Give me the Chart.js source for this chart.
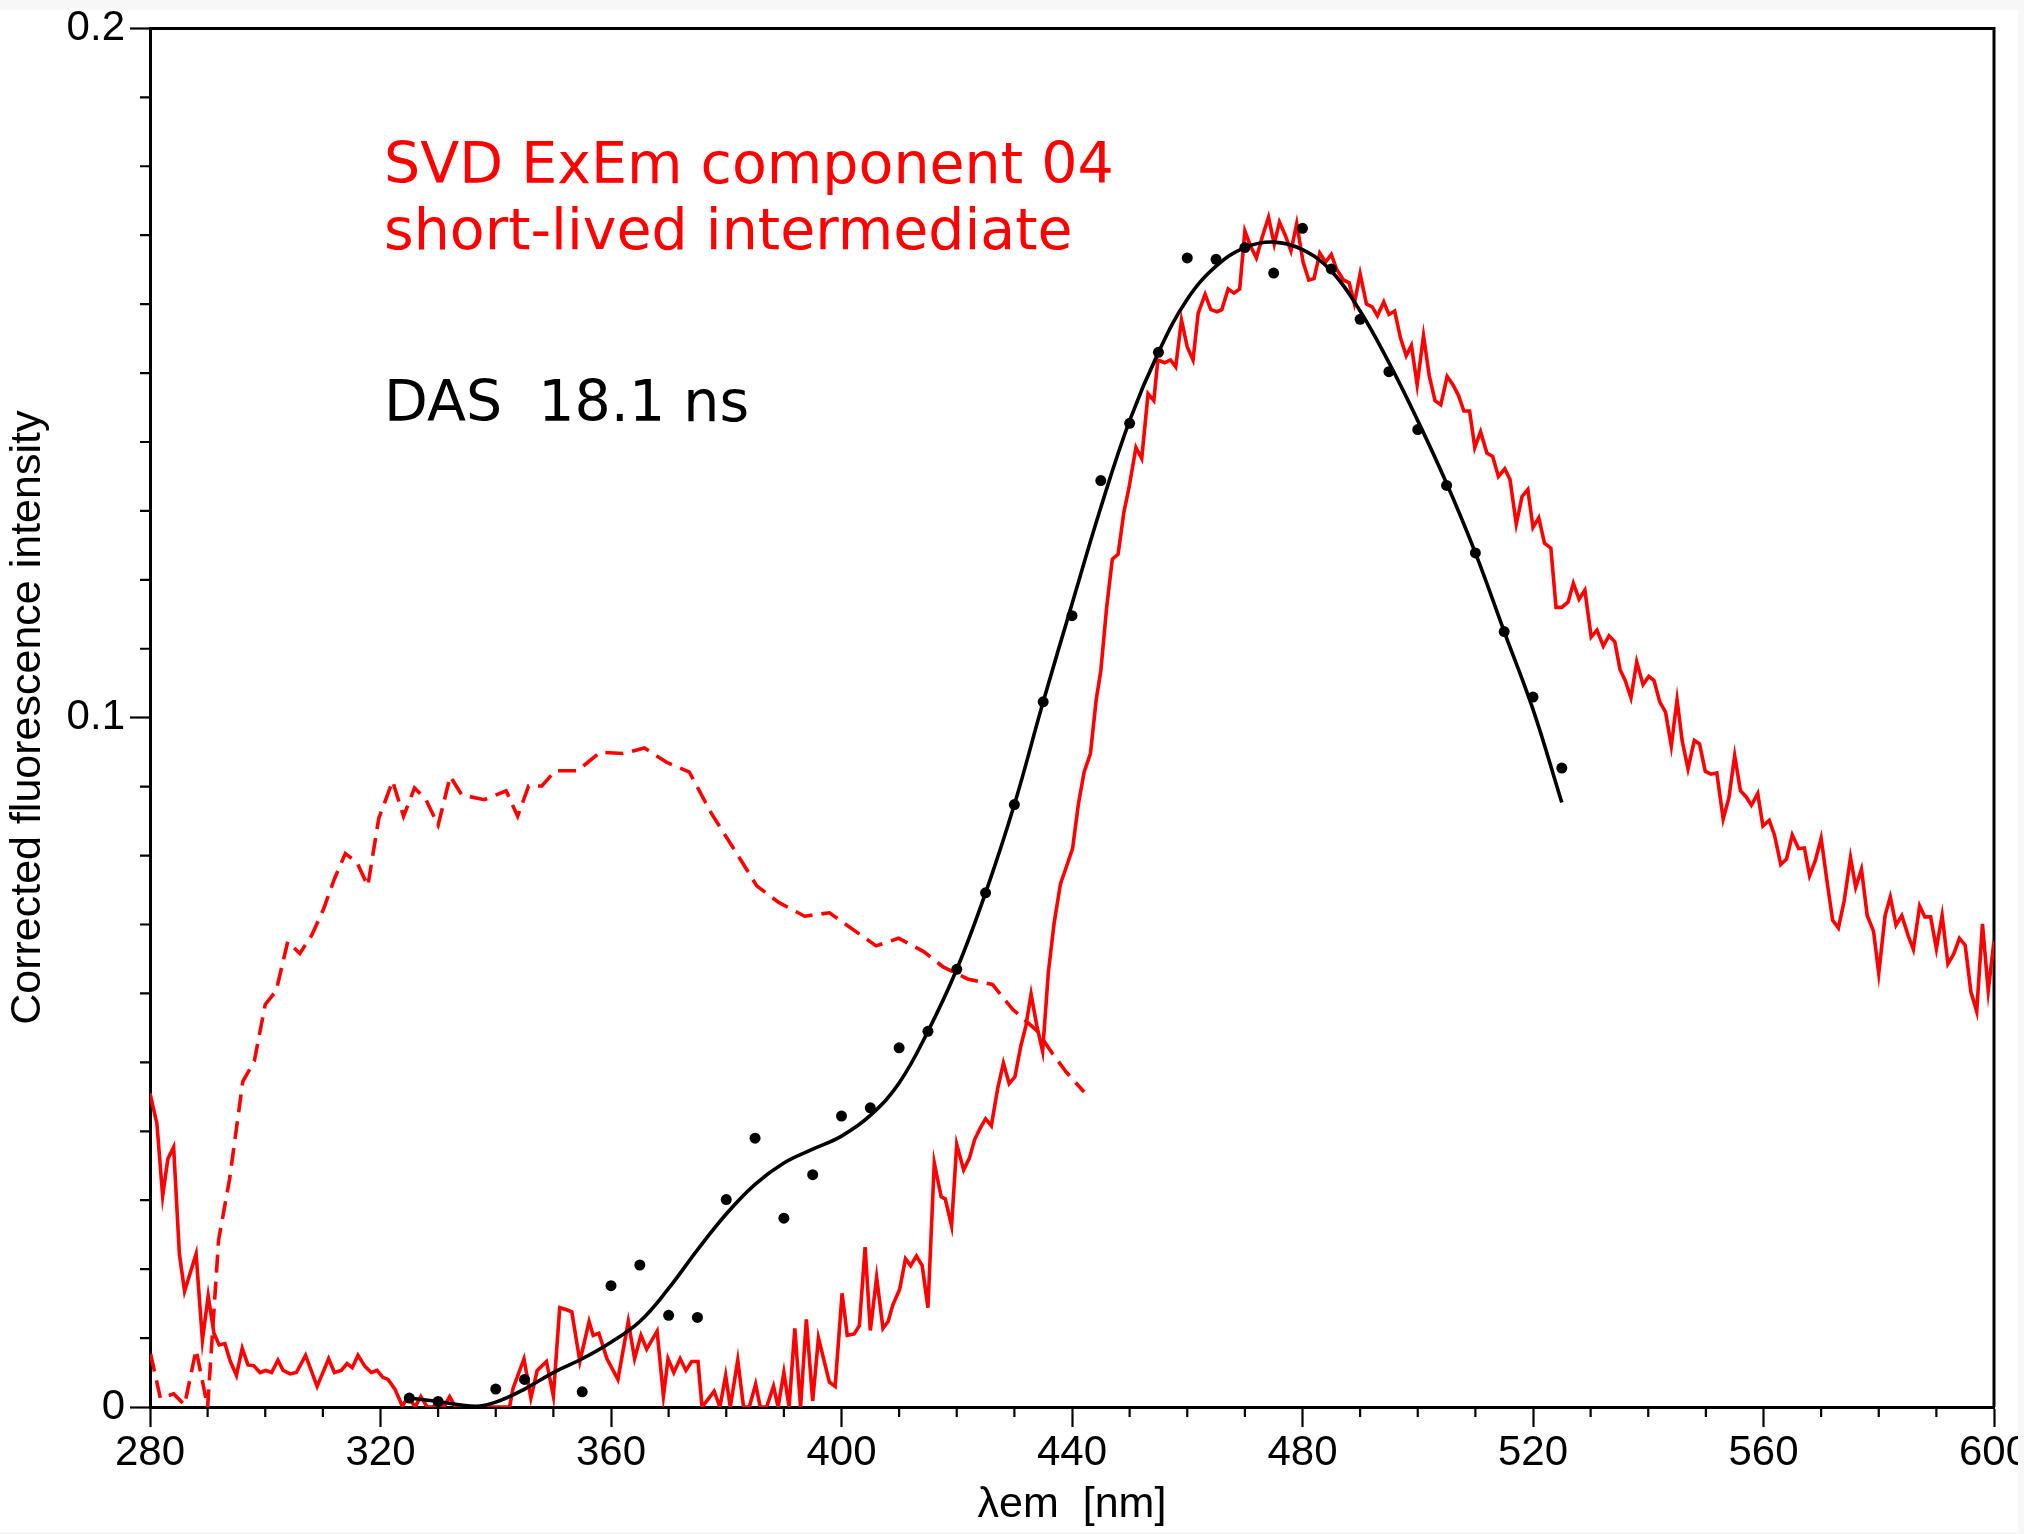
<!DOCTYPE html>
<html>
<head>
<meta charset="utf-8">
<title>SVD ExEm component 04</title>
<script src="https://cdn.jsdelivr.net/npm/chart.js@4.4.1/dist/chart.umd.min.js"></script>
<style>
  html, body { margin: 0; padding: 0; background: #f7f7f7; }
  #wrap { position: absolute; left: 0; top: 10px; width: 2018px; height: 1522px; background: #fff; }
</style>
</head>
<body>
<div id="wrap"><canvas id="chart" width="2018" height="1522"></canvas></div>
<script>
// emission spectrum of the SVD component (red, solid)
const emWavelength = [
  280, 281.2, 282.2, 283.1, 284.1, 285.1, 286, 288, 289.1, 290.1, 291.1, 292, 293, 293.9, 295, 296, 297, 298, 299.1, 300.1,
  301.1, 302.2, 303.1, 304.3, 305.4, 307, 309, 311, 312, 313.2, 314.2, 315.1, 316.1, 317.3, 318.4, 319.4, 320.4, 321.3, 322.5, 323.8,
  324.8, 326, 327, 328.1, 329, 330, 331, 332, 333, 335, 338, 341, 342.4, 343, 344.9, 346.1, 347.2, 348.8, 350, 351.1,
  352.3, 353.2, 354.6, 356.2, 356.9, 357.9, 359.3, 361.2, 363, 364.1, 365.2, 366.2, 368, 369.1, 369.9, 370.9, 372, 373, 374, 375.1,
  375.8, 377, 377.9, 378.9, 379.9, 380.7, 382, 383, 384, 385.1, 385.9, 387, 388.2, 389, 390, 390.9, 391.9, 392.9, 393.9, 395,
  396, 397.9, 398.9, 400.1, 401, 402.2, 403.1, 404.1, 405, 406.1, 407.2, 408.1, 408.9, 410.1, 411.1, 412, 413, 414, 415, 416.1,
  417.3, 418, 419.1, 420, 421.2, 422.2, 423.1, 424.1, 425, 426, 427.1, 428.1, 429.1, 430.1, 431.1, 432, 432.9, 433.9, 434.9, 435.9,
  436.9, 438, 439, 440.1, 441.1, 442.1, 443.2, 444.2, 445, 446, 447, 448, 449, 449.9, 451.1, 452.1, 453.2, 454.2, 454.9, 456.1,
  457.1, 458, 459, 460, 461, 461.9, 463.1, 464.1, 465.2, 466, 467.1, 468.1, 469.1, 470, 471, 472, 473, 474.1, 475.1, 476,
  477, 478, 479, 480.1, 481.1, 482, 483, 484, 485, 485.9, 487.1, 488.1, 489, 490, 491.1, 492.1, 493, 494.1, 495, 496,
  497, 498, 498.9, 499.9, 501, 502, 503, 504, 505.1, 506.1, 507.1, 508, 509, 509.9, 510.9, 512, 513, 514, 515.1, 516,
  517.1, 518.1, 519.1, 520, 521, 522, 523.1, 524, 525, 526.1, 527, 528, 529, 530.1, 531.1, 532.2, 533.2, 534.2, 535.1, 536,
  537, 538, 539.1, 540.1, 541, 542, 543, 544, 545, 545.9, 546.9, 548, 548.9, 549.9, 550.9, 551.9, 553, 554, 555, 556,
  557, 557.9, 559, 559.9, 561, 561.9, 563, 564, 565, 566.1, 567.1, 568, 569, 570, 571, 572, 573, 574, 575.1, 576,
  577, 578, 579.1, 580, 581.1, 582, 583, 584, 585.1, 586, 587.1, 588, 589, 590, 591, 592, 593, 594, 595, 596,
  597, 598, 599, 600
];
const emIntensity = [
  0.0455, 0.0411, 0.0306, 0.0360, 0.0377, 0.0222, 0.0168, 0.0222, 0.0097, 0.0161, 0.0107, 0.0090, 0.0092, 0.0067, 0.0046, 0.0085, 0.0061, 0.0060, 0.0050, 0.0053,
  0.0050, 0.0068, 0.0053, 0.0048, 0.0050, 0.0075, 0.0030, 0.0070, 0.0050, 0.0053, 0.0063, 0.0057, 0.0075, 0.0059, 0.0050, 0.0053, 0.0043, 0.0040, 0.0026, 0.0001,
  0.0016, 0.0000, 0.0015, 0.0000, 0.0000, 0.0005, 0.0000, 0.0015, 0.0000, 0.0000, 0.0000, 0.0000, 0.0000, 0.0027, 0.0070, 0.0013, 0.0053, 0.0066, 0.0016, 0.0144,
  0.0141, 0.0138, 0.0066, 0.0124, 0.0104, 0.0107, 0.0070, 0.0040, 0.0124, 0.0070, 0.0104, 0.0084, 0.0110, 0.0016, 0.0070, 0.0050, 0.0070, 0.0053, 0.0066, 0.0066,
  0.0000, 0.0013, 0.0023, 0.0000, 0.0046, 0.0000, 0.0068, 0.0000, 0.0000, 0.0033, 0.0000, 0.0000, 0.0030, 0.0000, 0.0050, 0.0000, 0.0114, 0.0000, 0.0127, 0.0009,
  0.0100, 0.0036, 0.0030, 0.0165, 0.0104, 0.0106, 0.0118, 0.0232, 0.0111, 0.0188, 0.0114, 0.0124, 0.0148, 0.0171, 0.0215, 0.0205, 0.0219, 0.0205, 0.0144, 0.0354,
  0.0305, 0.0302, 0.0263, 0.0381, 0.0344, 0.0361, 0.0388, 0.0405, 0.0418, 0.0408, 0.0462, 0.0499, 0.0469, 0.0479, 0.0523, 0.0553, 0.0599, 0.0553, 0.0516, 0.0631,
  0.0702, 0.0759, 0.0783, 0.0810, 0.0874, 0.0921, 0.0948, 0.1026, 0.1068, 0.1159, 0.1230, 0.1237, 0.1298, 0.1334, 0.1392, 0.1376, 0.1470, 0.1460, 0.1519, 0.1515,
  0.1519, 0.1509, 0.1577, 0.1538, 0.1519, 0.1587, 0.1614, 0.1592, 0.1589, 0.1592, 0.1622, 0.1616, 0.1622, 0.1706, 0.1684, 0.1667, 0.1697, 0.1726, 0.1687, 0.1719,
  0.1700, 0.1677, 0.1717, 0.1661, 0.1635, 0.1637, 0.1674, 0.1661, 0.1672, 0.1651, 0.1635, 0.1631, 0.1601, 0.1644, 0.1600, 0.1596, 0.1583, 0.1603, 0.1585, 0.1590,
  0.1551, 0.1525, 0.1540, 0.1483, 0.1554, 0.1496, 0.1460, 0.1454, 0.1495, 0.1483, 0.1467, 0.1445, 0.1445, 0.1392, 0.1415, 0.1384, 0.1379, 0.1350, 0.1361, 0.1346,
  0.1281, 0.1321, 0.1331, 0.1276, 0.1290, 0.1253, 0.1246, 0.1160, 0.1160, 0.1168, 0.1195, 0.1172, 0.1185, 0.1117, 0.1127, 0.1104, 0.1119, 0.1110, 0.1070, 0.1054,
  0.1029, 0.1081, 0.1048, 0.1060, 0.1054, 0.1023, 0.1008, 0.0959, 0.1026, 0.0966, 0.0926, 0.0967, 0.0962, 0.0922, 0.0918, 0.0920, 0.0853, 0.0884, 0.0945, 0.0894,
  0.0885, 0.0873, 0.0890, 0.0843, 0.0851, 0.0830, 0.0787, 0.0795, 0.0830, 0.0810, 0.0811, 0.0771, 0.0793, 0.0825, 0.0764, 0.0706, 0.0695, 0.0734, 0.0797, 0.0754,
  0.0780, 0.0713, 0.0690, 0.0629, 0.0713, 0.0740, 0.0699, 0.0713, 0.0684, 0.0664, 0.0727, 0.0711, 0.0711, 0.0665, 0.0713, 0.0643, 0.0657, 0.0680, 0.0670, 0.0602,
  0.0574, 0.0701, 0.0604, 0.0676
];

// excitation spectrum (red, dashed)
const exWavelength = [
  280.1, 281.8, 284.1, 286, 288, 290, 291.9, 293.8, 296.1, 298.1, 300, 301.9, 303.9, 306, 308.1, 310.1, 312, 313.9, 315.9, 317.8,
  319.7, 322.1, 324, 325.9, 327.9, 330, 332.1, 334.1, 338, 341.8, 343.8, 345.7, 348, 350.3, 354.2, 358.1, 362, 365.8, 369.7, 373.6,
  377.5, 381.3, 385.3, 389.1, 393.6, 397.9, 406, 409.9, 414.2, 417.7, 421.9, 426.2, 429.7, 433.9, 436.6, 439, 442.1
];
const exIntensity = [
  0.0077, 0.0013, 0.0019, 0.0003, 0.0083, 0.0000, 0.0242, 0.0330, 0.0472, 0.0502, 0.0584, 0.0604, 0.0675, 0.0658, 0.0685, 0.0722, 0.0766, 0.0803, 0.0790, 0.0756,
  0.0854, 0.0908, 0.0857, 0.0898, 0.0881, 0.0844, 0.0915, 0.0888, 0.0881, 0.0894, 0.0857, 0.0901, 0.0901, 0.0923, 0.0923, 0.0950, 0.0948, 0.0956, 0.0935, 0.0921,
  0.0860, 0.0810, 0.0756, 0.0732, 0.0712, 0.0717, 0.0669, 0.0680, 0.0661, 0.0638, 0.0621, 0.0613, 0.0577, 0.0546, 0.0513, 0.0486, 0.0457
];

// decay associated spectrum, 18.1 ns (black dots)
const dasWavelength = [325, 330, 340, 345, 355, 360, 365, 370, 375, 380, 385, 390, 395, 400, 405, 410, 415, 420, 425, 430,
  435, 440, 445, 450, 455, 460, 465, 470, 475, 480, 485, 490, 495, 500, 505, 510, 515, 520, 525];
const dasIntensity = [0.0013, 0.0008, 0.0026, 0.0040, 0.0022, 0.0176, 0.0206, 0.0133, 0.0130, 0.0301, 0.0390, 0.0274, 0.0337, 0.0422, 0.0434, 0.0521, 0.0545, 0.0635, 0.0746, 0.0874,
  0.1023, 0.1148, 0.1344, 0.1427, 0.1530, 0.1667, 0.1665, 0.1682, 0.1645, 0.1710, 0.1651, 0.1578, 0.1502, 0.1418, 0.1337, 0.1239, 0.1125, 0.1030, 0.0927];

// smooth fit through the DAS (black line)
const fitWavelength = [325, 330, 336.5, 340, 345, 350, 355, 360, 365, 370, 375, 380, 385, 390, 395, 400, 405, 410, 415, 420,
  425, 430, 435, 440, 445, 450, 455, 460, 465, 470, 475, 480, 485, 490, 495, 500, 505, 510, 515, 520, 525];
const fitIntensity = [0.0013, 0.0008, 0.0001, 0.0007, 0.0026, 0.0050, 0.0070, 0.0094, 0.0124, 0.0172, 0.0228, 0.0280, 0.0323, 0.0354, 0.0374, 0.0393, 0.0423, 0.0470, 0.0545, 0.0635,
  0.0746, 0.0874, 0.1023, 0.1165, 0.1305, 0.1431, 0.1530, 0.1607, 0.1655, 0.1682, 0.1690, 0.1679, 0.1648, 0.1590, 0.1515, 0.1431, 0.1340, 0.1239, 0.1125, 0.1012, 0.0877];

const xTickLabels = [280, 320, 360, 400, 440, 480, 520, 560, 600];
const yTickLabels = [0, 0.1, 0.2];

const toPoints = (xs, ys) => xs.map((x, i) => ({ x: x, y: ys[i] }));
const isLabelled = (v, list) => list.some(t => Math.abs(t - v) < 1e-9);

// minor ticks, closing frame and the two text blocks
const extras = {
  id: 'extras',
  beforeDatasetsDraw(chart) {
    const { ctx, chartArea: a, scales: { x, y } } = chart;
    ctx.save();
    ctx.strokeStyle = '#000';
    ctx.lineWidth = 2.2;
    ctx.beginPath();
    x.ticks.forEach(t => {
      if (isLabelled(t.value, xTickLabels)) return;
      const px = x.getPixelForValue(t.value);
      ctx.moveTo(px, a.bottom);
      ctx.lineTo(px, a.bottom + 10);
    });
    y.ticks.forEach(t => {
      if (isLabelled(t.value, yTickLabels)) return;
      const py = y.getPixelForValue(t.value);
      ctx.moveTo(a.left - 10, py);
      ctx.lineTo(a.left, py);
    });
    ctx.stroke();
    ctx.lineWidth = 3;
    ctx.beginPath();
    ctx.moveTo(a.left, a.top);
    ctx.lineTo(a.right, a.top);
    ctx.lineTo(a.right, a.bottom);
    ctx.stroke();
    ctx.restore();
  },
  afterDraw(chart) {
    const ctx = chart.ctx;
    ctx.save();
    ctx.font = '57px "DejaVu Sans"';
    ctx.textAlign = 'left';
    ctx.textBaseline = 'alphabetic';
    ctx.fillStyle = '#ff0000';
    ctx.fillText('SVD ExEm component 04', 384, 173);
    ctx.fillText('short-lived intermediate', 384, 239);
    ctx.fillStyle = '#000';
    ctx.fillText('DAS  18.1 ns', 384, 411);
    ctx.restore();
  }
};

const tickFont = { family: '"Liberation Sans", Arial, sans-serif', size: 42 };
const titleFont = { family: '"Liberation Sans", Arial, sans-serif', size: 43 };

new Chart(document.getElementById('chart'), {
  type: 'line',
  data: {
    datasets: [
      {
        label: 'DAS 18.1 ns',
        data: toPoints(dasWavelength, dasIntensity),
        showLine: false,
        pointRadius: 5.5,
        pointBackgroundColor: '#000',
        pointBorderWidth: 0
      },
      {
        label: 'fit',
        data: toPoints(fitWavelength, fitIntensity),
        borderColor: '#000',
        borderWidth: 3.6,
        pointRadius: 0,
        tension: 0.4
      },
      {
        label: 'emission',
        data: toPoints(emWavelength, emIntensity),
        borderColor: '#ff0000',
        borderWidth: 3.6,
        pointRadius: 0,
        tension: 0
      },
      {
        label: 'excitation',
        data: toPoints(exWavelength, exIntensity),
        borderColor: '#ff0000',
        borderWidth: 3.6,
        borderDash: [18, 9],
        pointRadius: 0,
        tension: 0
      }
    ]
  },
  options: {
    responsive: false,
    animation: false,
    devicePixelRatio: 1,
    layout: { padding: { left: 0, top: 18.4, right: 24, bottom: 0 } },
    plugins: { legend: { display: false }, tooltip: { enabled: false } },
    scales: {
      x: {
        type: 'linear',
        position: 'bottom',
        min: 280,
        max: 600,
        ticks: {
          stepSize: 10,
          autoSkip: false,
          maxRotation: 0,
          padding: 1,
          color: '#000',
          font: tickFont,
          callback: v => isLabelled(v, xTickLabels) ? String(v) : ''
        },
        grid: {
          drawOnChartArea: false,
          drawTicks: true,
          tickLength: 20,
          tickWidth: 2.2,
          tickColor: c => (c.tick && isLabelled(c.tick.value, xTickLabels)) ? '#000' : 'rgba(0,0,0,0)'
        },
        border: { display: true, color: '#000', width: 3 },
        title: { display: true, text: 'λem  [nm]', color: '#000', font: titleFont, padding: { top: 0, bottom: 1 } },
        afterFit: s => { s.height = 125; s.paddingLeft = 0; s.paddingRight = 0; }
      },
      y: {
        type: 'linear',
        position: 'left',
        min: 0,
        max: 0.2,
        ticks: {
          stepSize: 0.01,
          autoSkip: false,
          padding: 5,
          color: '#000',
          font: tickFont,
          callback: v => isLabelled(v, yTickLabels) ? String(Math.round(v * 10) / 10) : ''
        },
        grid: {
          drawOnChartArea: false,
          drawTicks: true,
          tickLength: 20,
          tickWidth: 2.2,
          tickColor: c => (c.tick && isLabelled(c.tick.value, yTickLabels)) ? '#000' : 'rgba(0,0,0,0)'
        },
        border: { display: true, color: '#000', width: 3 },
        title: { display: true, text: 'Corrected fluorescence intensity', color: '#000', font: titleFont, padding: { top: 2.6, bottom: 0 } },
        afterFit: s => { s.width = 150; s.paddingTop = 0; s.paddingBottom = 0; }
      }
    }
  },
  plugins: [extras]
});
</script>
</body>
</html>
